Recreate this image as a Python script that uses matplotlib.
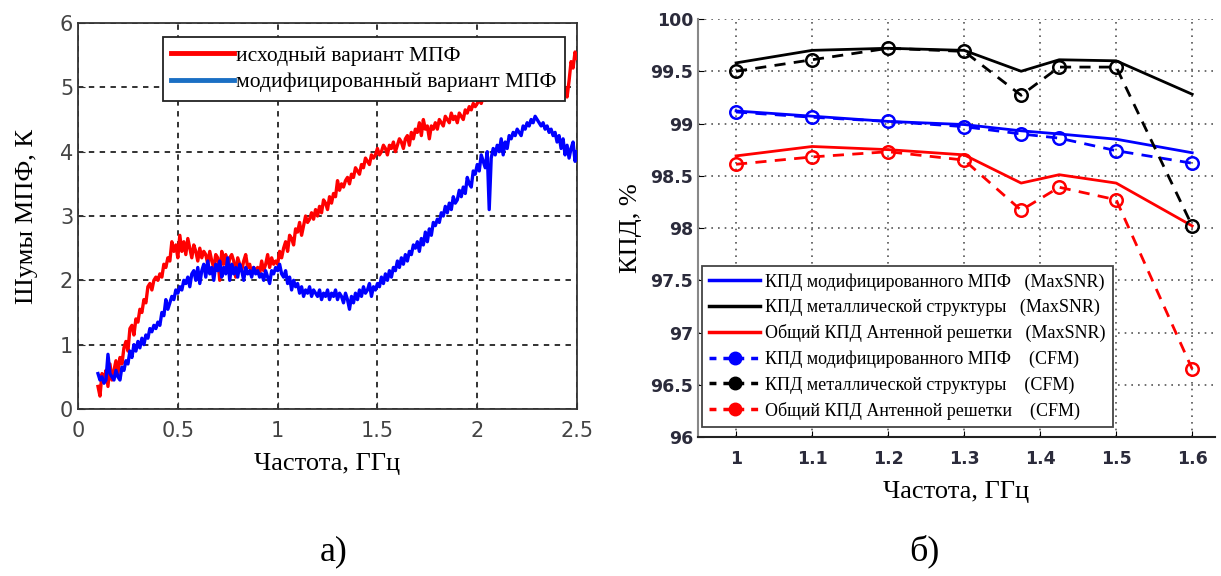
import numpy as np
import matplotlib
matplotlib.use("Agg")
import matplotlib.pyplot as plt
from matplotlib.lines import Line2D

# ---- данные (а): шумы МПФ, К, шаг 0.01 ГГц от 0.10 до 2.50 ----
f_noise = np.round(np.arange(0.10, 2.501, 0.01), 2)

noise_orig = [
    0.35, 0.20, 0.55, 0.45, 0.60, 0.35, 0.70, 0.45, 0.60, 0.75,
    0.55, 0.80, 0.70, 0.95, 1.05, 0.90, 1.25, 1.30, 1.15, 1.40,
    1.35, 1.55, 1.50, 1.70, 1.65, 1.90, 1.95, 1.85, 2.00, 2.05,
    2.00, 2.10, 2.05, 2.25, 2.20, 2.35, 2.30, 2.60, 2.45, 2.55,
    2.35, 2.70, 2.45, 2.60, 2.40, 2.65, 2.50, 2.35, 2.55, 2.45,
    2.30, 2.50, 2.35, 2.45, 2.40, 2.25, 2.45, 2.30, 2.20, 2.40,
    2.35, 2.00, 2.45, 2.25, 2.40, 2.15, 2.35, 2.40, 2.30, 2.05,
    2.35, 2.25, 2.15, 2.30, 2.40, 2.20, 2.25, 2.10, 2.20, 2.15,
    2.20, 2.10, 2.30, 2.15, 2.25, 2.40, 2.20, 2.35, 2.25, 2.30,
    2.25, 2.45, 2.35, 2.50, 2.60, 2.45, 2.70, 2.65, 2.55, 2.80,
    2.75, 2.90, 2.70, 2.85, 3.00, 2.90, 2.95, 3.05, 2.95, 3.10,
    3.00, 3.15, 3.05, 3.25, 3.20, 3.10, 3.30, 3.20, 3.35, 3.30,
    3.55, 3.40, 3.50, 3.45, 3.55, 3.60, 3.50, 3.65, 3.60, 3.75,
    3.70, 3.65, 3.80, 3.75, 3.90, 3.85, 3.80, 3.95, 3.90, 3.95,
    4.05, 3.95, 4.00, 4.10, 4.05, 3.95, 4.10, 4.05, 4.15, 4.00,
    4.10, 4.20, 4.15, 4.05, 4.20, 4.25, 4.10, 4.30, 4.20, 4.35,
    4.30, 4.45, 4.25, 4.50, 4.35, 4.40, 4.20, 4.40, 4.35, 4.45,
    4.35, 4.50, 4.45, 4.40, 4.55, 4.50, 4.45, 4.60, 4.50, 4.55,
    4.45, 4.60, 4.55, 4.50, 4.65, 4.60, 4.70, 4.65, 4.75, 4.70,
    4.75, 4.80, 4.75, 4.85, 4.80, 4.90, 4.85, 4.95, 4.90, 4.85,
    4.95, 5.00, 4.95, 5.05, 5.00, 4.95, 5.10, 5.05, 5.00, 5.10,
    5.05, 5.15, 5.10, 5.05, 5.15, 5.20, 5.10, 5.15, 5.25, 5.20,
    5.15, 5.25, 5.20, 5.30, 5.25, 5.20, 5.30, 5.25, 5.35, 5.30,
    5.20, 5.35, 5.25, 4.90, 5.00, 4.85, 5.10, 5.40, 5.30, 5.55,
    5.45,
]

noise_mod = [
    0.55, 0.45, 0.50, 0.40, 0.45, 0.85, 0.55, 0.50, 0.45, 0.60,
    0.50, 0.45, 0.65, 0.60, 0.75, 0.70, 0.90, 0.80, 1.00, 0.90,
    1.05, 0.95, 1.10, 1.00, 1.15, 1.10, 1.25, 1.20, 1.30, 1.25,
    1.35, 1.30, 1.50, 1.45, 1.70, 1.55, 1.65, 1.75, 1.70, 1.85,
    1.80, 1.90, 1.85, 2.00, 1.95, 2.05, 1.90, 2.10, 2.15, 2.00,
    2.20, 1.95, 2.15, 2.25, 2.05, 2.30, 2.10, 2.20, 2.00, 2.25,
    2.15, 2.30, 2.05, 2.20, 2.10, 2.35, 2.00, 2.25, 2.10, 2.20,
    2.05, 2.25, 2.15, 2.00, 2.20, 2.10, 2.15, 2.05, 2.20, 2.10,
    2.15, 2.05, 2.10, 2.00, 2.15, 2.05, 1.95, 2.15, 2.10, 2.20,
    2.15, 2.25, 2.10, 2.05, 2.15, 1.95, 2.05, 1.85, 2.00, 1.90,
    1.95, 1.80, 1.90, 1.75, 1.85, 1.80, 1.90, 1.75, 1.85, 1.80,
    1.75, 1.85, 1.70, 1.80, 1.75, 1.85, 1.70, 1.80, 1.75, 1.85,
    1.70, 1.80, 1.75, 1.65, 1.80, 1.70, 1.55, 1.75, 1.65, 1.80,
    1.70, 1.85, 1.75, 1.90, 1.80, 1.85, 1.95, 1.75, 1.90, 1.85,
    1.95, 1.90, 2.05, 1.95, 2.10, 2.00, 2.15, 2.05, 2.20, 2.15,
    2.30, 2.20, 2.35, 2.25, 2.40, 2.30, 2.45, 2.40, 2.55, 2.50,
    2.60, 2.45, 2.65, 2.55, 2.75, 2.60, 2.80, 2.70, 2.90, 2.85,
    2.95, 2.90, 3.05, 3.00, 3.15, 3.05, 3.20, 3.10, 3.30, 3.20,
    3.25, 3.40, 3.30, 3.45, 3.35, 3.60, 3.50, 3.45, 3.70, 3.65,
    3.80, 3.70, 3.95, 3.85, 3.75, 4.00, 3.10, 3.90, 4.05, 3.95,
    4.10, 4.00, 4.20, 3.95, 4.15, 4.05, 4.25, 4.20, 4.30, 4.25,
    4.35, 4.30, 4.25, 4.40, 4.35, 4.45, 4.40, 4.50, 4.45, 4.55,
    4.50, 4.45, 4.40, 4.45, 4.35, 4.40, 4.30, 4.35, 4.25, 4.30,
    4.15, 4.25, 4.05, 4.20, 3.95, 4.10, 3.90, 4.05, 4.15, 3.85,
    4.00,
]

# ---- данные (б): КПД, % ----
f_eff = [1.0, 1.1, 1.2, 1.3, 1.375, 1.425, 1.5, 1.6]
eff_mpf_snr = [99.12, 99.07, 99.02, 98.99, 98.93, 98.90, 98.85, 98.72]
eff_met_snr = [99.58, 99.70, 99.72, 99.70, 99.50, 99.61, 99.60, 99.28]
eff_ar_snr = [98.69, 98.78, 98.75, 98.70, 98.43, 98.51, 98.43, 98.02]
eff_mpf_cfm = [99.11, 99.06, 99.02, 98.97, 98.90, 98.86, 98.74, 98.62]
eff_met_cfm = [99.50, 99.61, 99.72, 99.69, 99.27, 99.54, 99.54, 98.02]
eff_ar_cfm = [98.61, 98.68, 98.73, 98.65, 98.17, 98.39, 98.27, 96.65]

labels_b = [
    "КПД модифицированного МПФ   (MaxSNR)",
    "КПД металлической структуры   (MaxSNR)",
    "Общий КПД Антенной решетки   (MaxSNR)",
    "КПД модифицированного МПФ    (CFM)",
    "КПД металлической структуры    (CFM)",
    "Общий КПД Антенной решетки    (CFM)",
]

SERIF = "Liberation Serif"

fig = plt.figure(figsize=(12.21, 5.76), dpi=100)

# ---------- (а) ----------
ax1 = fig.add_axes([0.0639, 0.290, 0.4087, 0.670])
ax1.plot(f_noise, noise_orig, color="#ff0000", lw=2.4, zorder=3)
ax1.plot(f_noise, noise_mod, color="#0000ff", lw=2.4, zorder=3)
ax1.set_xlim(0, 2.5)
ax1.set_ylim(0, 6)
ax1.set_xticks([0, 0.5, 1, 1.5, 2, 2.5])
ax1.set_xticklabels(["0", "0.5", "1", "1.5", "2", "2.5"])
ax1.set_yticks(range(7))
ax1.grid(True, color="#222222", linestyle=(0, (3, 3)), linewidth=1.3)
ax1.tick_params(direction="in", labelsize=15, labelcolor="#444444", color="#333333", length=5)
ax1.tick_params(axis="x", pad=9)
for s in ax1.spines.values():
    s.set_color("#333333")
    s.set_linewidth(1.3)
ax1.set_xlabel("Частота, ГГц", family=SERIF, fontsize=19, labelpad=8)
ax1.set_ylabel("Шумы МПФ, К", family=SERIF, fontsize=19, labelpad=16)

h1 = [Line2D([], [], color="#ff0000", lw=3.5), Line2D([], [], color="#1a6fc4", lw=3.5)]
leg1 = ax1.legend(h1, ["исходный вариант МПФ", "модифицированный вариант МПФ"],
                  loc="upper right", bbox_to_anchor=(0.976, 0.964), borderaxespad=0,
                  prop={"family": SERIF, "size": 15.5}, handlelength=2.9, handletextpad=0.1,
                  labelspacing=0.3, fancybox=False, framealpha=1, edgecolor="#222222",
                  borderpad=0.4)
leg1.get_frame().set_linewidth(1.3)
leg1.set_zorder(5)

# ---------- (б) ----------
ax2 = fig.add_axes([0.5717, 0.2413, 0.4234, 0.7257])
series = [
    (eff_mpf_snr, "blue", "-", None),
    (eff_met_snr, "black", "-", None),
    (eff_ar_snr, "red", "-", None),
    (eff_mpf_cfm, "blue", (0, (4, 3)), "o"),
    (eff_met_cfm, "black", (0, (4, 3)), "o"),
    (eff_ar_cfm, "red", (0, (4, 3)), "o"),
]
for y, c, ls, m in series:
    ax2.plot(f_eff, y, color=c, linestyle=ls, lw=2.0, marker=m, markersize=9,
             markerfacecolor="none", markeredgewidth=1.8, zorder=3)

ax2.set_xlim(0.95, 1.63)
ax2.set_ylim(96, 100)
ax2.set_xticks([1, 1.1, 1.2, 1.3, 1.4, 1.5, 1.6])
ax2.set_xticklabels(["1", "1.1", "1.2", "1.3", "1.4", "1.5", "1.6"])
ax2.set_yticks([96, 96.5, 97, 97.5, 98, 98.5, 99, 99.5, 100])
ax2.set_yticklabels(["96", "96.5", "97", "97.5", "98", "98.5", "99", "99.5", "100"])
ax2.grid(True, color="#555555", linestyle=(0, (1, 3)), linewidth=1.2)
ax2.tick_params(direction="in", labelsize=12.5, labelcolor="#2b2b3b", length=4)
ax2.tick_params(axis="x", pad=9)
for lab in ax2.get_xticklabels() + ax2.get_yticklabels():
    lab.set_fontweight("bold")
ax2.spines["top"].set_visible(False)
ax2.spines["right"].set_visible(False)
ax2.spines["left"].set_color("#888888")
ax2.spines["left"].set_linewidth(1.5)
ax2.spines["bottom"].set_color("#222222")
ax2.spines["bottom"].set_linewidth(1.5)
ax2.set_xlabel("Частота, ГГц", family=SERIF, fontsize=19, labelpad=10)
ax2.set_ylabel("КПД, %", family=SERIF, fontsize=19, labelpad=6)

h2 = []
for y, c, ls, m in series:
    if m:
        h2.append(Line2D([], [], color=c, linestyle=(0, (2, 2)), lw=2.5, marker="o",
                         markersize=9, markerfacecolor=c, markeredgecolor=c))
    else:
        h2.append(Line2D([], [], color=c, lw=2.5))
leg2 = ax2.legend(h2, labels_b, loc="lower left", bbox_to_anchor=(0.008, 0.024),
                  borderaxespad=0, prop={"family": SERIF, "size": 13}, handlelength=2.8,
                  handletextpad=0.3, labelspacing=0.45, fancybox=False, framealpha=1,
                  edgecolor="#444444", borderpad=0.4)
leg2.get_frame().set_linewidth(1.3)
leg2.set_zorder(5)

# подписи
fig.text(0.273, 0.042, "а)", family=SERIF, fontsize=26, ha="center", va="center")
fig.text(0.757, 0.042, "б)", family=SERIF, fontsize=26, ha="center", va="center")

fig.savefig("out.png", dpi=100, facecolor="white")
